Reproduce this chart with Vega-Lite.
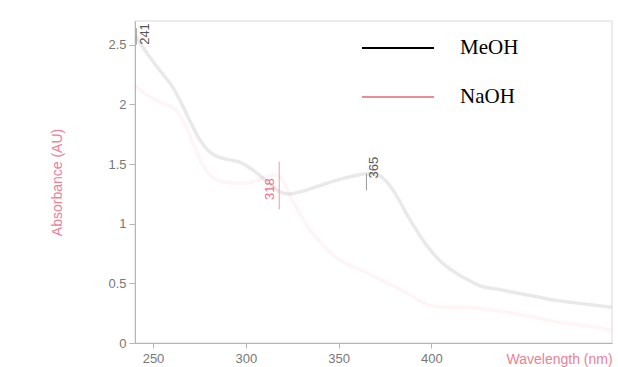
{
  "$schema": "https://vega.github.io/schema/vega-lite/v6.json",
  "width": 477,
  "height": 322,
  "autosize": {"type": "none"},
  "padding": {"left": 135, "top": 21, "right": 6, "bottom": 24},
  "background": "white",
  "config": {
    "view": {"stroke": "#e6e6e6", "strokeWidth": 1.5},
    "axis": {
      "grid": false,
      "domainColor": "#b5b5b5",
      "tickColor": "#b5b5b5",
      "labelColor": "#777777",
      "labelFont": "Liberation Sans",
      "labelFontSize": 13,
      "titleFont": "Liberation Sans",
      "titleFontSize": 14,
      "titleFontWeight": "normal",
      "titleColor": "#ec8096"
    }
  },
  "datasets": {
    "spectra": [
      {"series": "MeOH", "wl": 241, "a": 2.57},
      {"series": "MeOH", "wl": 245, "a": 2.47},
      {"series": "MeOH", "wl": 250, "a": 2.36},
      {"series": "MeOH", "wl": 255, "a": 2.26},
      {"series": "MeOH", "wl": 260, "a": 2.16},
      {"series": "MeOH", "wl": 265, "a": 2.02},
      {"series": "MeOH", "wl": 270, "a": 1.86},
      {"series": "MeOH", "wl": 275, "a": 1.71},
      {"series": "MeOH", "wl": 280, "a": 1.61},
      {"series": "MeOH", "wl": 285, "a": 1.56},
      {"series": "MeOH", "wl": 290, "a": 1.54},
      {"series": "MeOH", "wl": 296, "a": 1.52},
      {"series": "MeOH", "wl": 302, "a": 1.47},
      {"series": "MeOH", "wl": 308, "a": 1.4},
      {"series": "MeOH", "wl": 313, "a": 1.33},
      {"series": "MeOH", "wl": 318, "a": 1.27},
      {"series": "MeOH", "wl": 323, "a": 1.25},
      {"series": "MeOH", "wl": 330, "a": 1.27},
      {"series": "MeOH", "wl": 340, "a": 1.32},
      {"series": "MeOH", "wl": 350, "a": 1.37},
      {"series": "MeOH", "wl": 358, "a": 1.4},
      {"series": "MeOH", "wl": 365, "a": 1.42},
      {"series": "MeOH", "wl": 371, "a": 1.41},
      {"series": "MeOH", "wl": 376, "a": 1.35},
      {"series": "MeOH", "wl": 381, "a": 1.24},
      {"series": "MeOH", "wl": 386, "a": 1.1},
      {"series": "MeOH", "wl": 391, "a": 0.97},
      {"series": "MeOH", "wl": 396, "a": 0.85},
      {"series": "MeOH", "wl": 401, "a": 0.75},
      {"series": "MeOH", "wl": 406, "a": 0.67},
      {"series": "MeOH", "wl": 411, "a": 0.61},
      {"series": "MeOH", "wl": 416, "a": 0.56},
      {"series": "MeOH", "wl": 421, "a": 0.52},
      {"series": "MeOH", "wl": 426, "a": 0.48},
      {"series": "MeOH", "wl": 436, "a": 0.45},
      {"series": "MeOH", "wl": 446, "a": 0.42},
      {"series": "MeOH", "wl": 456, "a": 0.39},
      {"series": "MeOH", "wl": 466, "a": 0.36},
      {"series": "MeOH", "wl": 476, "a": 0.34},
      {"series": "MeOH", "wl": 486, "a": 0.32},
      {"series": "MeOH", "wl": 497, "a": 0.3},
      {"series": "NaOH", "wl": 240, "a": 2.17},
      {"series": "NaOH", "wl": 245, "a": 2.1},
      {"series": "NaOH", "wl": 250, "a": 2.05},
      {"series": "NaOH", "wl": 255, "a": 2.01},
      {"series": "NaOH", "wl": 259, "a": 1.99},
      {"series": "NaOH", "wl": 263, "a": 1.94},
      {"series": "NaOH", "wl": 267, "a": 1.84},
      {"series": "NaOH", "wl": 271, "a": 1.7},
      {"series": "NaOH", "wl": 275, "a": 1.55},
      {"series": "NaOH", "wl": 279, "a": 1.44},
      {"series": "NaOH", "wl": 283, "a": 1.38},
      {"series": "NaOH", "wl": 288, "a": 1.35},
      {"series": "NaOH", "wl": 295, "a": 1.34},
      {"series": "NaOH", "wl": 300, "a": 1.34},
      {"series": "NaOH", "wl": 305, "a": 1.36},
      {"series": "NaOH", "wl": 310, "a": 1.39},
      {"series": "NaOH", "wl": 315, "a": 1.41},
      {"series": "NaOH", "wl": 318, "a": 1.4},
      {"series": "NaOH", "wl": 321, "a": 1.33},
      {"series": "NaOH", "wl": 325, "a": 1.2},
      {"series": "NaOH", "wl": 330, "a": 1.06},
      {"series": "NaOH", "wl": 334, "a": 0.96},
      {"series": "NaOH", "wl": 340, "a": 0.85},
      {"series": "NaOH", "wl": 347, "a": 0.74},
      {"series": "NaOH", "wl": 355, "a": 0.66},
      {"series": "NaOH", "wl": 365, "a": 0.59},
      {"series": "NaOH", "wl": 375, "a": 0.51},
      {"series": "NaOH", "wl": 383, "a": 0.45},
      {"series": "NaOH", "wl": 390, "a": 0.39},
      {"series": "NaOH", "wl": 400, "a": 0.31},
      {"series": "NaOH", "wl": 410, "a": 0.3},
      {"series": "NaOH", "wl": 420, "a": 0.3},
      {"series": "NaOH", "wl": 430, "a": 0.28},
      {"series": "NaOH", "wl": 440, "a": 0.26},
      {"series": "NaOH", "wl": 450, "a": 0.23},
      {"series": "NaOH", "wl": 460, "a": 0.2},
      {"series": "NaOH", "wl": 470, "a": 0.17},
      {"series": "NaOH", "wl": 480, "a": 0.15},
      {"series": "NaOH", "wl": 490, "a": 0.13},
      {"series": "NaOH", "wl": 497, "a": 0.11}
    ],
    "peaks": [
      {"series": "MeOH", "label": "241", "wl": 245.7, "a": 2.5, "lo": 2.5, "hi": 2.64, "pk": 241},
      {"series": "NaOH", "label": "318", "wl": 312.8, "a": 1.2, "lo": 1.12, "hi": 1.52, "pk": 318},
      {"series": "MeOH", "label": "365", "wl": 369, "a": 1.38, "lo": 1.28, "hi": 1.42, "pk": 365}
    ]
  },
  "layer": [
    {
      "data": {"name": "spectra"},
      "mark": {"type": "line", "interpolate": "monotone", "strokeWidth": 3.5, "opacity": 0.085},
      "encoding": {
        "x": {
          "field": "wl", "type": "quantitative",
          "scale": {"domain": [240.3, 497.3], "nice": false, "zero": false},
          "axis": {
            "values": [250, 300, 350, 400],
            "title": "Wavelength (nm)",
            "tickSize": 5,
            "labelPadding": 4,
            "titleX": 371, "titleY": 16,
            "titleAlign": "left", "titleBaseline": "middle", "titleAnchor": "start"
          }
        },
        "y": {
          "field": "a", "type": "quantitative",
          "scale": {"domain": [0, 2.7], "nice": false},
          "axis": {
            "values": [0, 0.5, 1, 1.5, 2, 2.5],
            "format": "~g",
            "title": "Absorbance (AU)",
            "tickSize": 6,
            "labelPadding": 3,
            "titleX": -78, "titleY": 161,
            "titleAlign": "center", "titleBaseline": "middle"
          }
        },
        "color": {
          "field": "series", "type": "nominal",
          "scale": {"domain": ["MeOH", "NaOH"], "range": ["#000000", "#e58e98"]},
          "legend": {
            "orient": "none",
            "legendX": 250,
            "legendY": 14,
            "title": null,
            "padding": 0,
            "symbolType": "M-3,0H3",
            "symbolSize": 576,
            "symbolStrokeWidth": 2,
            "symbolOpacity": 1,
            "labelFont": "Liberation Serif",
            "labelFontSize": 21,
            "labelColor": "#000000",
            "labelOffset": 49,
            "rowPadding": 26
          }
        },
        "detail": {"field": "series"}
      }
    },
    {
      "data": {"name": "peaks"},
      "transform": [{"filter": "datum.series == 'NaOH'"}],
      "mark": {"type": "rule", "color": "#f09aaa", "strokeWidth": 1},
      "encoding": {
        "x": {"field": "pk", "type": "quantitative"},
        "y": {"field": "lo", "type": "quantitative"},
        "y2": {"field": "hi"}
      }
    },
    {
      "data": {"name": "peaks"},
      "transform": [{"filter": "datum.series == 'MeOH'"}],
      "mark": {"type": "rule", "color": "#9a9a9a", "strokeWidth": 1},
      "encoding": {
        "x": {"field": "pk", "type": "quantitative"},
        "y": {"field": "lo", "type": "quantitative"},
        "y2": {"field": "hi"}
      }
    },
    {
      "data": {"name": "peaks"},
      "transform": [{"filter": "datum.series == 'MeOH'"}],
      "mark": {"type": "text", "angle": 270, "align": "left", "baseline": "middle", "font": "Liberation Sans", "fontSize": 13, "color": "#555555"},
      "encoding": {
        "x": {"field": "wl", "type": "quantitative"},
        "y": {"field": "a", "type": "quantitative"},
        "text": {"field": "label"}
      }
    },
    {
      "data": {"name": "peaks"},
      "transform": [{"filter": "datum.series == 'NaOH'"}],
      "mark": {"type": "text", "angle": 270, "align": "left", "baseline": "middle", "font": "Liberation Sans", "fontSize": 13, "color": "#e8708a"},
      "encoding": {
        "x": {"field": "wl", "type": "quantitative"},
        "y": {"field": "a", "type": "quantitative"},
        "text": {"field": "label"}
      }
    }
  ]
}
